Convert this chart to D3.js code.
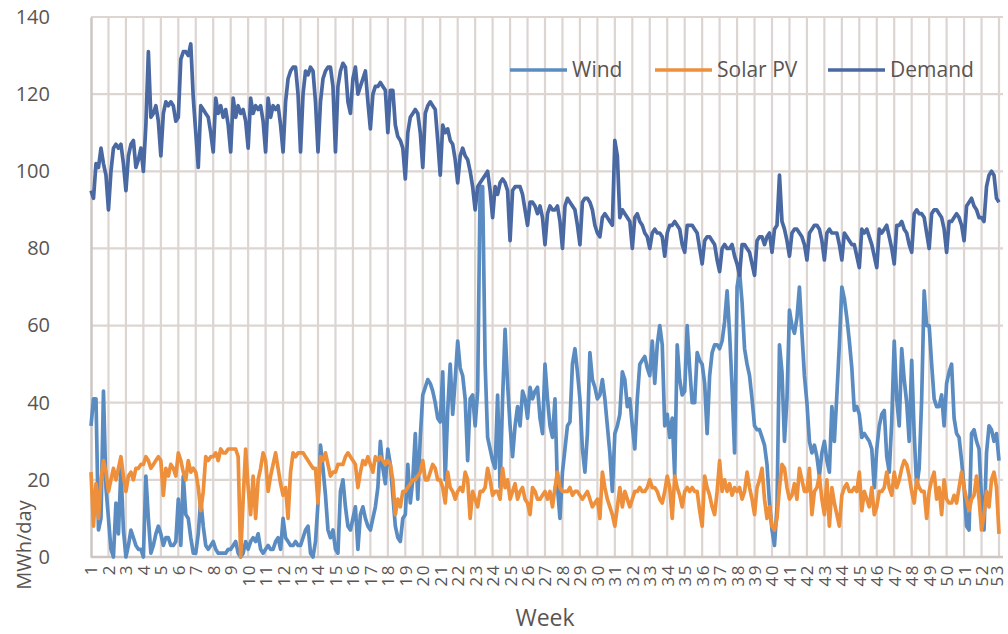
<!DOCTYPE html>
<html>
<head>
<meta charset="utf-8">
<script src="https://cdn.jsdelivr.net/npm/d3@7"></script>
<style>
body{margin:0;background:#fff;}
text{font-family:'Open Sans', sans-serif;fill:#5a5552;}
</style>
</head>
<body>
<svg id="main"></svg>
<script>
//--------data----------
const seriesNames = ['Wind', 'Solar PV', 'Demand'];
const weekLabels = d3.range(1, 54);
const yTicks = [0, 20, 40, 60, 80, 100, 120, 140];

// daily values, one row per week (MWh/day)
const windWeeks = [
  [34, 41, 41, 7, 10, 43, 18], [10, 2, 0, 14, 6, 23, 7], [0, 3, 7, 5, 3, 2, 2], [0, 21, 10, 1, 3, 6, 8],
  [6, 3, 5, 5, 3, 3, 4], [15, 3, 21, 11, 10, 5, 1], [1, 6, 15, 8, 3, 2, 3], [4, 2, 1, 1, 1, 1, 2],
  [2, 3, 4, 1, 0, 1, 4], [2, 4, 5, 4, 6, 2, 1], [2, 3, 2, 2, 4, 5, 2], [10, 5, 4, 3, 3, 4, 3],
  [3, 5, 7, 8, 1, 0, 4], [14, 29, 23, 16, 7, 5, 7], [2, 1, 17, 20, 13, 8, 7], [10, 13, 2, 11, 13, 10, 8],
  [7, 10, 13, 18, 30, 23, 19], [28, 24, 16, 8, 5, 4, 10], [11, 24, 14, 20, 32, 15, 31], [42, 44, 46, 45, 43, 40, 36],
  [35, 48, 20, 38, 50, 37, 46], [56, 49, 47, 41, 25, 41, 42], [34, 43, 96, 96, 50, 31, 28], [25, 23, 42, 18, 41, 59, 45],
  [34, 26, 34, 39, 34, 43, 41], [36, 44, 41, 43, 44, 36, 32], [50, 41, 34, 31, 41, 18, 10], [22, 28, 34, 35, 50, 54, 48],
  [41, 28, 22, 32, 53, 46, 44], [41, 42, 46, 41, 34, 27, 17], [32, 34, 37, 48, 46, 39, 41], [34, 28, 41, 50, 51, 52, 49],
  [47, 56, 45, 55, 60, 55, 34], [37, 31, 36, 21, 55, 46, 42], [43, 60, 49, 40, 40, 53, 51], [50, 45, 32, 47, 53, 55, 55],
  [54, 56, 61, 69, 58, 44, 27], [70, 74, 66, 54, 50, 47, 41], [34, 33, 33, 31, 29, 24, 14], [7, 3, 13, 55, 48, 30, 41],
  [64, 60, 58, 62, 70, 58, 47], [40, 30, 27, 29, 26, 21, 27], [30, 25, 22, 39, 30, 42, 55], [70, 67, 62, 56, 49, 38, 39],
  [37, 31, 32, 31, 30, 28, 18], [28, 34, 37, 38, 26, 22, 35], [56, 41, 34, 54, 46, 40, 30], [51, 32, 18, 23, 41, 69, 60],
  [60, 50, 41, 39, 39, 42, 34], [45, 48, 50, 36, 32, 31, 25], [18, 8, 7, 32, 33, 30, 28], [15, 7, 27, 34, 33, 30, 32],
  [25]
];

const solarWeeks = [
  [22, 8, 19, 10, 20, 25, 22], [17, 20, 23, 20, 23, 26, 21], [17, 21, 22, 20, 23, 23, 24], [24, 26, 25, 23, 24, 25, 26],
  [25, 16, 23, 21, 24, 23, 21], [27, 25, 22, 20, 25, 22, 23], [22, 18, 12, 17, 26, 25, 26], [26, 27, 25, 28, 27, 27, 28],
  [28, 28, 28, 26, 0, 15, 28], [18, 11, 21, 10, 20, 23, 27], [25, 17, 21, 24, 27, 23, 19], [16, 18, 10, 22, 27, 26, 27],
  [27, 27, 26, 25, 24, 23, 23], [14, 26, 25, 27, 24, 21, 22], [22, 24, 24, 24, 26, 27, 26], [25, 24, 18, 22, 25, 24, 26],
  [24, 22, 26, 25, 26, 25, 24], [25, 24, 20, 11, 15, 13, 17], [17, 18, 19, 20, 20, 21, 22], [25, 20, 20, 22, 24, 23, 20],
  [20, 18, 14, 22, 18, 17, 15], [17, 18, 17, 22, 20, 10, 17], [15, 13, 17, 17, 18, 23, 20], [16, 17, 17, 15, 23, 18, 20],
  [15, 17, 19, 15, 17, 18, 15], [14, 11, 18, 17, 15, 15, 16], [17, 15, 17, 13, 18, 22, 18], [17, 17, 17, 18, 16, 17, 17],
  [16, 15, 16, 17, 15, 13, 14], [15, 10, 22, 18, 15, 13, 11], [8, 13, 18, 13, 17, 15, 13], [15, 17, 17, 18, 17, 17, 18],
  [20, 18, 18, 17, 15, 14, 17], [21, 18, 10, 21, 18, 16, 13], [17, 18, 17, 18, 17, 17, 12], [8, 21, 18, 16, 13, 11, 17],
  [25, 17, 20, 17, 19, 16, 18], [17, 18, 15, 17, 22, 18, 15], [11, 18, 20, 23, 15, 10, 13], [8, 7, 10, 18, 24, 23, 18],
  [15, 16, 19, 15, 23, 20, 17], [17, 23, 11, 17, 18, 21, 15], [11, 20, 8, 18, 14, 11, 8], [16, 18, 19, 17, 17, 18, 17],
  [22, 12, 17, 15, 13, 18, 11], [13, 17, 17, 18, 22, 18, 16], [22, 18, 20, 23, 25, 24, 21], [17, 14, 20, 18, 17, 17, 10],
  [17, 20, 22, 15, 18, 11, 20], [15, 14, 14, 16, 14, 18, 22], [18, 15, 12, 15, 16, 21, 15], [7, 11, 17, 13, 20, 22, 18],
  [6]
];

const demandWeeks = [
  [95, 93, 102, 101, 106, 102, 99], [90, 100, 106, 107, 106, 107, 102], [95, 104, 107, 108, 101, 103, 106], [100, 112, 131, 114, 115, 117, 113],
  [104, 115, 118, 117, 118, 117, 113], [114, 129, 131, 131, 130, 133, 119], [110, 101, 117, 116, 115, 114, 110], [105, 119, 115, 117, 114, 116, 112],
  [105, 119, 114, 117, 115, 116, 113], [106, 119, 115, 117, 116, 117, 113], [105, 119, 114, 117, 116, 117, 112], [105, 118, 124, 126, 127, 127, 120],
  [105, 120, 126, 125, 127, 126, 118], [105, 118, 124, 126, 127, 127, 122], [105, 122, 126, 128, 127, 118, 115], [124, 127, 120, 122, 124, 126, 118],
  [111, 120, 122, 122, 123, 122, 121], [110, 121, 121, 112, 109, 108, 106], [98, 110, 114, 115, 116, 115, 110], [101, 115, 117, 118, 117, 116, 108],
  [99, 112, 110, 111, 108, 107, 103], [97, 104, 106, 104, 103, 100, 96], [90, 96, 97, 98, 99, 100, 95], [88, 96, 94, 97, 98, 97, 95],
  [82, 95, 96, 96, 96, 94, 90], [86, 92, 92, 91, 89, 91, 88], [81, 89, 91, 90, 90, 91, 87], [80, 91, 93, 92, 91, 90, 86],
  [81, 92, 93, 93, 92, 90, 86], [84, 83, 88, 89, 88, 87, 86], [108, 104, 88, 90, 89, 88, 87], [80, 88, 89, 87, 86, 84, 83],
  [80, 84, 85, 84, 84, 83, 78], [84, 86, 86, 87, 86, 85, 81], [79, 86, 86, 86, 85, 84, 80], [76, 82, 83, 83, 82, 81, 77],
  [74, 80, 81, 80, 80, 81, 78], [76, 73, 81, 81, 80, 79, 76], [73, 82, 83, 83, 81, 83, 84], [79, 85, 86, 99, 87, 85, 82],
  [78, 84, 85, 85, 84, 83, 81], [77, 84, 85, 86, 86, 85, 82], [77, 84, 85, 84, 84, 84, 81], [77, 84, 83, 82, 81, 81, 78],
  [75, 85, 84, 85, 83, 81, 78], [75, 85, 84, 85, 86, 83, 80], [76, 86, 86, 87, 85, 84, 81], [79, 89, 90, 89, 89, 88, 84],
  [80, 89, 90, 90, 89, 88, 85], [79, 87, 87, 88, 89, 88, 86], [82, 91, 92, 93, 91, 90, 88], [88, 87, 96, 99, 100, 99, 93],
  [92]
];

const colors = ['#5b8cc1', '#ee8f3c', '#4a69a3'];

// //--------code----------
const wind = windWeeks.flat();
const solar = solarWeeks.flat();
const demand = demandWeeks.flat();
const series = [wind, solar, demand];
const nDays = demand.length;

let width = 1008;
let height = 634;
let svg = d3.select('#main')
.attr('width', width)
.attr('height', height)
.style('background', '#fff');

let sx = d3.scaleLinear().domain([0, nDays-1]).range([91, 999]);
let sy = d3.scaleLinear().domain([0, 140]).range([557, 17]);
let weekDay = weekLabels.map(w=>7*(w-1));

//gridlines
svg.append('g')
.selectAll('line')
.data(yTicks.slice(1))
.join('line')
.attr('x1', sx.range()[0])
.attr('x2', 1003)
.attr('y1', d=>sy(d))
.attr('y2', d=>sy(d))
.attr('stroke', '#dcd5d2')
.attr('stroke-width', 2.2);
svg.append('g')
.selectAll('line')
.data(weekDay.slice(1))
.join('line')
.attr('x1', d=>sx(d))
.attr('x2', d=>sx(d))
.attr('y1', sy(140))
.attr('y2', sy(0))
.attr('stroke', '#dcd5d2')
.attr('stroke-width', 2.2);

//axes
let ay = d3.axisLeft(sy).tickValues(yTicks).tickSize(0).tickPadding(41);
let gy = svg.append('g')
.attr('transform', `translate(${sx.range()[0]},0)`)
.call(ay);
gy.select('.domain').attr('stroke', '#cdc6c2').attr('stroke-width', 2.5);
gy.selectAll('text')
.style('font-size', '20px')
.attr('fill', '#5a5552');

let ax = d3.axisBottom(sx).tickValues(weekDay).tickFormat((d,i)=>weekLabels[i]).tickSize(0);
let gx = svg.append('g')
.attr('transform', `translate(0,${sy(0)})`)
.call(ax);
gx.select('.domain').attr('stroke', '#cdc6c2').attr('stroke-width', 2.5).attr('d', `M${sx.range()[0]},0H1003`);
gx.selectAll('text')
.style('font-size', '17px')
.style('letter-spacing', '1.5px')
.attr('fill', '#5a5552')
.attr('text-anchor', 'end')
.attr('transform', 'rotate(-90)')
.attr('x', -7)
.attr('y', 0)
.attr('dy', (d,i)=>i==weekDay.length-1 ? '0.2em' : '0.35em');

//series lines
let line = d3.line()
.x((d,i)=>sx(i))
.y(d=>sy(d));
svg.append('g')
.selectAll('path')
.data(series)
.join('path')
.attr('d', d=>line(d))
.attr('fill', 'none')
.attr('stroke', (d,i)=>colors[i])
.attr('stroke-width', 3.7)
.attr('stroke-linejoin', 'round');

//legend
let legendX = [510, 655, 828];
let lg = svg.append('g')
.selectAll('g')
.data(seriesNames)
.join('g')
.attr('transform', (d,i)=>`translate(${legendX[i]},70)`);
lg.append('line')
.attr('x1', 0)
.attr('x2', 57)
.attr('stroke', (d,i)=>colors[i])
.attr('stroke-width', 3.7);
lg.append('text')
.attr('x', 62)
.attr('dy', '0.35em')
.style('font-size', '21px')
.text(d=>d);

//axis titles
svg.append('text')
.attr('x', 545)
.attr('y', 626)
.attr('text-anchor', 'middle')
.style('font-size', '23px')
.text('Week');
svg.append('text')
.attr('transform', 'translate(31,545) rotate(-90)')
.attr('text-anchor', 'middle')
.style('font-size', '20px')
.text('MWh/day');
</script>
</body>
</html>
